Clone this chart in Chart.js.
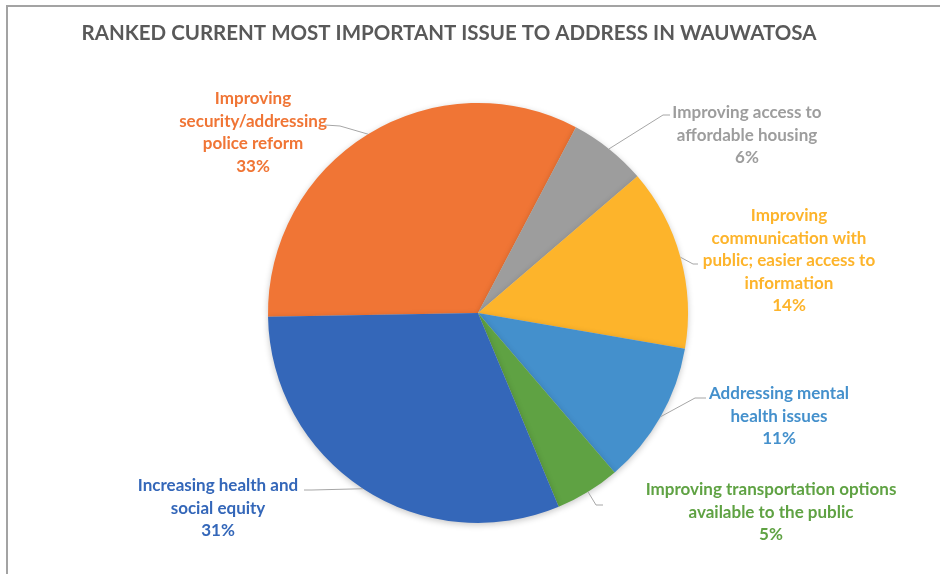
<!DOCTYPE html>
<html lang="en">

<head>
    <meta charset="UTF-8">
    <title>Ranked current most important issue</title>
    <script src="https://cdn.jsdelivr.net/npm/chart.js@4.4.1/dist/chart.umd.min.js"></script>
    <style>
        body {
            margin: 0;
            background: #ffffff;
        }

        #moldura {
            position: absolute;
            left: 6px;
            top: 5px;
            width: 940px;
            height: 574px;
            border-top: 2px solid #a3a3a3;
            border-left: 2px solid #a3a3a3;
            pointer-events: none;
        }
    </style>
</head>

<body>
    <canvas id="graficoPizza" width="940" height="574"></canvas>
    <div id="moldura"></div>

    <script>
        var titulo = 'RANKED CURRENT MOST IMPORTANT ISSUE TO ADDRESS IN WAUWATOSA'

        // categorias (quebradas em linhas como no rótulo original)
        var categorias = [
            ['Improving', 'security/addressing', 'police reform'],
            ['Improving access to', 'affordable housing'],
            ['Improving', 'communication with', 'public; easier access to', 'information'],
            ['Addressing mental', 'health issues'],
            ['Improving transportation options', 'available to the public'],
            ['Increasing health and', 'social equity']
        ]

        // percentuais de cada fatia
        var valores = [33, 6, 14, 11, 5, 31]

        var cores = ['#f07535', '#9d9d9d', '#fdb42b', '#4490cc', '#5fa243', '#3467b9']

        // posição dos rótulos: centro x, y da 1a linha, ponta no texto e cotovelo da linha guia
        var posRotulos = [
            { x: 253, y: 99, ponta: [325, 125], cotovelo: [340, 126] },
            { x: 747, y: 113, ponta: [670, 115], cotovelo: [663, 115] },
            { x: 789, y: 216, ponta: [698, 264], cotovelo: [693, 264] },
            { x: 779, y: 394, ponta: [706, 398], cotovelo: [695, 398] },
            { x: 771, y: 490, ponta: [603, 505], cotovelo: [596, 505] },
            { x: 218, y: 486, ponta: [304, 490], cotovelo: [312, 490] }
        ]
        var alturaLinha = 22.4

        // sombra leve da pizza
        const sombra = {
            id: 'sombra',
            beforeDatasetsDraw(chart) {
                chart.ctx.save()
                chart.ctx.shadowColor = 'rgba(0,0,0,0.22)'
                chart.ctx.shadowBlur = 6
                chart.ctx.shadowOffsetY = 2
            },
            afterDatasetsDraw(chart) {
                chart.ctx.restore()
            }
        }

        // título + rótulos com linha guia
        const rotulos = {
            id: 'rotulos',
            afterDraw(chart) {
                var ctx = chart.ctx
                var meta = chart.getDatasetMeta(0)
                ctx.save()

                ctx.fillStyle = '#595959'
                ctx.font = 'bold 20.5px Lato'
                ctx.textAlign = 'center'
                ctx.textBaseline = 'middle'
                ctx.fillText(titulo, 449, 33)

                meta.data.forEach(function (arco, i) {
                    var p = posRotulos[i]
                    var meio = (arco.startAngle + arco.endAngle) / 2
                    var bx = arco.x + Math.cos(meio) * arco.outerRadius
                    var by = arco.y + Math.sin(meio) * arco.outerRadius

                    ctx.strokeStyle = '#a6a6a6'
                    ctx.lineWidth = 1
                    ctx.beginPath()
                    ctx.moveTo(p.ponta[0], p.ponta[1])
                    ctx.lineTo(p.cotovelo[0], p.cotovelo[1])
                    ctx.lineTo(bx, by)
                    ctx.stroke()

                    var linhas = categorias[i].concat([valores[i] + '%'])
                    ctx.fillStyle = cores[i]
                    ctx.font = 'bold 17px Lato'
                    ctx.textAlign = 'center'
                    ctx.textBaseline = 'middle'
                    linhas.forEach(function (txt, j) {
                        ctx.fillText(txt, p.x, p.y + j * alturaLinha)
                    })
                })
                ctx.restore()
            }
        }

        const config = {
            type: 'pie',
            data: {
                labels: categorias,
                datasets: [{
                    data: valores,
                    backgroundColor: cores,
                    borderWidth: 0
                }]
            },
            options: {
                responsive: false,
                animation: false,
                rotation: -91,
                layout: {
                    padding: { left: 268, right: 252, top: 103, bottom: 51 }
                },
                plugins: {
                    legend: { display: false },
                    tooltip: { enabled: false },
                    title: { display: false }
                }
            },
            plugins: [sombra, rotulos]
        }

        const graficoPizza = new Chart(document.getElementById('graficoPizza'), config)
    </script>
</body>

</html>
